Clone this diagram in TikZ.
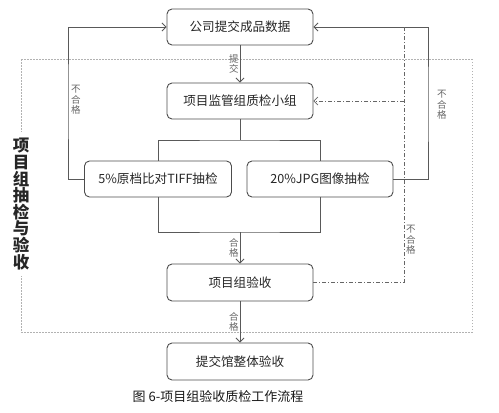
\documentclass[tikz,border=0pt]{standalone}
\usepackage{fontspec}
\newfontfamily\cjk{Noto Sans CJK SC}
\usetikzlibrary{arrows.meta}
\tikzset{
  box/.style={draw=black!70, rounded corners=5pt, line width=0.9pt, minimum width=146pt, minimum height=36pt, font=\cjk\fontsize{12.6}{14}\selectfont, text=black!85},
  flow/.style={draw=black!65, line width=0.9pt, -{Straight Barb[length=4pt,width=8pt]}},
  link/.style={draw=black!65, line width=0.9pt},
  redo/.style={draw=black!60, line width=0.7pt, dash pattern=on 4pt off 2pt on 1pt off 2pt},
  tag/.style={font=\cjk\fontsize{9.5}{10.5}\selectfont, text=black!60, align=center, inner sep=1pt},
  frame/.style={draw=black!30, line width=0.7pt, dash pattern=on 1.5pt off 1.5pt},
}
\begin{document}
\begin{tikzpicture}[x=1pt,y=-1pt]
    \useasboundingbox (0,0) rectangle (499,413);
    % dotted frame of the group
    \draw[frame] (21,59) rectangle (472,332);
    \node[fill=white, inner sep=6pt, align=center, font=\cjk\bfseries\fontsize{16.5}{16.6}\selectfont, text=black!85] (group) at (21,204) {项\\目\\组\\抽\\检\\与\\验\\收};
    % boxes
    \node[box] (data) at (240,27) {公司提交成品数据};
    \node[box] (qc) at (240,101) {项目监管组质检小组};
    \node[box, minimum width=147pt] (tiff) at (158,179) {5\%原档比对TIFF抽检};
    \node[box] (jpg) at (320,179) {20\%JPG图像抽检};
    \node[box, minimum height=37pt] (accept) at (240,282.5) {项目组验收};
    \node[box, minimum height=37pt] (final) at (240,361.5) {提交馆整体验收};
    \node[font=\cjk\fontsize{13}{14}\selectfont, text=black!90] (caption) at (218,397) {图 6-项目组验收质检工作流程};
    % main flow
    \coordinate (split) at (240,140);
    \coordinate (merge) at (240,232);
    \draw[flow] (data) -- node[tag,left]{提\\交} (qc);
    \draw[link] (qc) -- (split);
    \draw[link] (tiff.north) |- (split) -| (jpg.north);
    \draw[link] (tiff.south) |- (merge) -| (jpg.south);
    \draw[flow] (merge) -- node[tag,left]{合\\格} (accept);
    \draw[flow] (accept) -- node[tag,left]{合\\格} (final);
    % back to the company
    \coordinate (lback) at (68,100);
    \coordinate (rback) at (428,105);
    \draw[flow] (tiff.west) -| (lback) |- (data.west);
    \node[tag, right=2pt] at (lback) {不\\合\\格};
    \draw[flow] (jpg.east) -| (rback) |- (data.east);
    \node[tag, right=8pt] at (rback) {不\\合\\格};
    % project group rejects
    \coordinate (rtop) at (404,27);
    \coordinate (rmid) at (404,101);
    \draw[redo] (accept.east) -| (rtop);
    \draw[redo, -{Straight Barb[length=4pt,width=8pt]}] (rmid) -- (qc.east);
    \node[tag, right=1pt] at (404,240) {不\\合\\格};
\end{tikzpicture}
\end{document}
